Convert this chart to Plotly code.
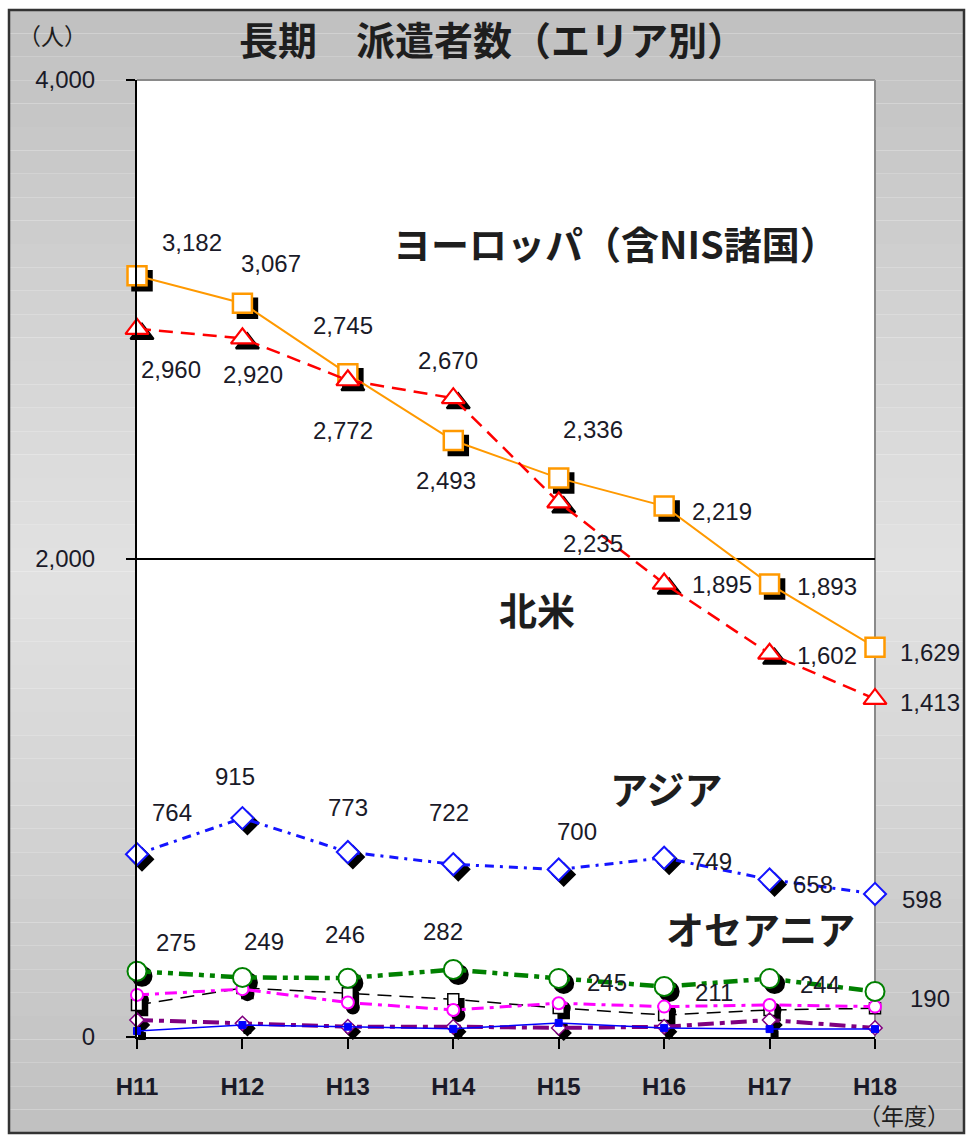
import plotly.graph_objects as go

# ---- data -------------------------------------------------------------
years = ["H11", "H12", "H13", "H14", "H15", "H16", "H17", "H18"]
europe = [3182, 3067, 2772, 2493, 2336, 2219, 1893, 1629]
north_america = [2960, 2920, 2745, 2670, 2235, 1895, 1602, 1413]
asia = [764, 915, 773, 722, 700, 749, 658, 598]
oceania = [275, 249, 246, 282, 245, 211, 244, 190]
area_black = [134, 205, 183, 158, 121, 92, 113, 120]
area_magenta = [176, 200, 144, 113, 141, 127, 134, 127]
area_purple = [71, 57, 43, 43, 38, 43, 71, 38]
area_blue = [25, 50, 43, 34, 59, 38, 33, 33]

y_ticks = [0, 2000, 4000]
y_max = 4000

# ---- geometry ---------------------------------------------------------
W, H = 968, 1138
ML, MR, MT, MB = 137, 93, 80, 101
PW, PH = W - ML - MR, H - MT - MB
N = len(years) - 1


def px_x(px):
    return (px - ML) / PW


def px_y(py):
    return (H - MB - py) / PH


# drop shadow offset of the markers (pixels)
SDX, SDY = 5, 5
x_off = SDX * N / PW
y_off = SDY * y_max / PH

# ---- series styles -----------------------------------------------------
series = [
    dict(v=area_black, color="#000000", width=1.5, dash="14px,8px",
         symbol="square", size=11, fill="white", mlw=1.5),
    dict(v=area_purple, color="#800080", width=4, dash="16px,6px,5px,6px",
         symbol="diamond", size=11, fill="white", mlw=1.5),
    dict(v=area_blue, color="#0000ff", width=1.5, dash="solid",
         symbol="square", size=7, fill="#0000ff", mlw=1),
    dict(v=area_magenta, color="#ff00ff", width=3, dash="12px,6px,4px,6px",
         symbol="circle", size=12, fill="white", mlw=2),
    dict(v=oceania, color="#008000", width=4.5, dash="14px,6px,5px,6px,5px,6px",
         symbol="circle", size=19, fill="white", mlw=2),
    dict(v=asia, color="#1414ff", width=3, dash="9px,6px,3px,6px",
         symbol="diamond", size=17, fill="white", mlw=2),
    dict(v=europe, color="#ff9900", width=2, dash="solid",
         symbol="square", size=19, fill="white", mlw=2.5),
    dict(v=north_america, color="#ff0000", width=2.5, dash="14px,8px",
         symbol="triangle-up", size=20, fill="white", mlw=2.2),
]

fig = go.Figure()

# shadows on the base axes (shifted a few pixels right/down)
for s in series:
    fig.add_trace(go.Scatter(
        x=years, y=s["v"], mode="markers", xaxis="x", yaxis="y",
        marker=dict(symbol=s["symbol"], size=s["size"], color="black",
                    line=dict(color="black", width=s["mlw"])),
        hoverinfo="skip", showlegend=False, cliponaxis=False))

# lines + markers on the overlay axes
for s in series:
    fig.add_trace(go.Scatter(
        x=years, y=s["v"], mode="lines+markers", xaxis="x2", yaxis="y2",
        line=dict(color=s["color"], width=s["width"], dash=s["dash"]),
        marker=dict(symbol=s["symbol"], size=s["size"], color=s["fill"],
                    line=dict(color=s["color"], width=s["mlw"])),
        showlegend=False, cliponaxis=False))

# ---- value labels ------------------------------------------------------
label_font = dict(family="Liberation Sans, Arial, sans-serif", size=24, color="#1a1a28")
europe_off = [(55, -33), (29, -40), (-5, 57), (-7, 40), (34, -49), (58, 5), (57, 2), (55, 5)]
na_off = [(34, 41), (11, 36), (-5, -55), (-5, -38), (34, 41), (58, 1), (57, 2), (55, 4)]
asia_off = [(35, -42), (-7, -42), (0, -45), (-4, -52), (18, -38), (48, 4), (43, 5), (47, 6)]
oce_off = [(39, -29), (22, -36), (-3, -44), (-10, -38), (48, 4), (50, 6), (50, 6), (55, 7)]

annotations = []
for vals, offs in [(europe, europe_off), (north_america, na_off),
                   (asia, asia_off), (oceania, oce_off)]:
    for yr, v, (dx, dy) in zip(years, vals, offs):
        annotations.append(dict(
            x=yr, y=v, xref="x2", yref="y2", text=f"{v:,}", showarrow=False,
            xanchor="center", yanchor="middle",
            xshift=dx, yshift=-dy, font=label_font))

jp = "Noto Sans CJK JP, sans-serif"


def paper_text(text, cx, cy, font):
    return dict(x=px_x(cx), y=px_y(cy), xref="paper", yref="paper", text=text,
                showarrow=False, xanchor="center", yanchor="middle", font=font)


area_font = dict(family=jp, size=38, color="#1e1e1e", weight="bold")
for text, cx, cy in [("ヨーロッパ（含NIS諸国）", 615, 243), ("北米", 537, 608),
                     ("アジア", 666, 787), ("オセアニア", 760, 927)]:
    annotations.append(paper_text(text, cx, cy, area_font))

annotations += [
    paper_text("長期　派遣者数（エリア別）", 492, 38,
               dict(family=jp, size=39, color="#1e1e1e", weight="bold")),
    paper_text("（人）", 52, 35, dict(family=jp, size=23, color="#1e1e1e")),
    paper_text("（年度）", 904, 1115, dict(family=jp, size=23, color="#1e1e1e")),
]

# ---- background -------------------------------------------------------
shapes = []
top, bot, left, right = 10, 1133, 9, 964
bands = 48
for i in range(bands):
    y0 = top + (bot - top) * i / bands
    y1 = top + (bot - top) * (i + 1) / bands
    t = (i + 0.5) / bands
    g = int(round(192 + 34 * (1 - abs(2 * t - 1))))
    shapes.append(dict(type="rect", xref="paper", yref="paper", layer="below",
                       x0=px_x(left), x1=px_x(right), y0=px_y(y1), y1=px_y(y0),
                       fillcolor=f"rgb({g},{g},{g})", line=dict(width=0)))
# plot area
shapes.append(dict(type="rect", xref="paper", yref="paper", layer="below",
                   x0=0, x1=1, y0=0, y1=1, fillcolor="white", line=dict(width=0)))
shapes.append(dict(type="line", xref="paper", yref="paper", layer="below",
                   x0=1, x1=1, y0=0, y1=1, line=dict(color="#8a8a8a", width=2)))
shapes.append(dict(type="line", xref="paper", yref="paper", layer="above",
                   x0=0, x1=1, y0=1, y1=1, line=dict(color="#8a8a8a", width=2)))
# outer frame
shapes.append(dict(type="rect", xref="paper", yref="paper", layer="above",
                   x0=px_x(left), x1=px_x(right), y0=px_y(bot), y1=px_y(top),
                   line=dict(color="#333333", width=2.5)))

fig.update_layout(
    width=W, height=H,
    margin=dict(l=ML, r=MR, t=MT, b=MB, pad=0),
    paper_bgcolor="white", plot_bgcolor="rgba(0,0,0,0)",
    showlegend=False,
    xaxis=dict(type="category", categoryorder="array", categoryarray=years,
               range=[-x_off, N - x_off], visible=False, fixedrange=True),
    yaxis=dict(range=[y_off, y_max + y_off], visible=False, fixedrange=True),
    xaxis2=dict(type="category", categoryorder="array", categoryarray=years,
                overlaying="x", side="bottom", range=[0, N],
                showline=True, linecolor="black", linewidth=2,
                ticks="outside", ticklen=10, tickwidth=2, tickcolor="black",
                showgrid=False, zeroline=False, ticklabelstandoff=17,
                tickfont=dict(family="Liberation Sans, Arial, sans-serif",
                              size=24, color="#1a1a28", weight="bold")),
    yaxis2=dict(overlaying="y", side="left", range=[0, y_max],
                tickvals=y_ticks, ticktext=[f"{v:,}" for v in y_ticks],
                showline=True, linecolor="black", linewidth=2,
                ticks="outside", ticklen=9, tickwidth=2, tickcolor="black",
                showgrid=True, gridcolor="black", gridwidth=1.5,
                zeroline=False, ticklabelstandoff=26,
                tickfont=label_font),
    shapes=shapes,
    annotations=annotations,
)

fig.write_html("out.html")
